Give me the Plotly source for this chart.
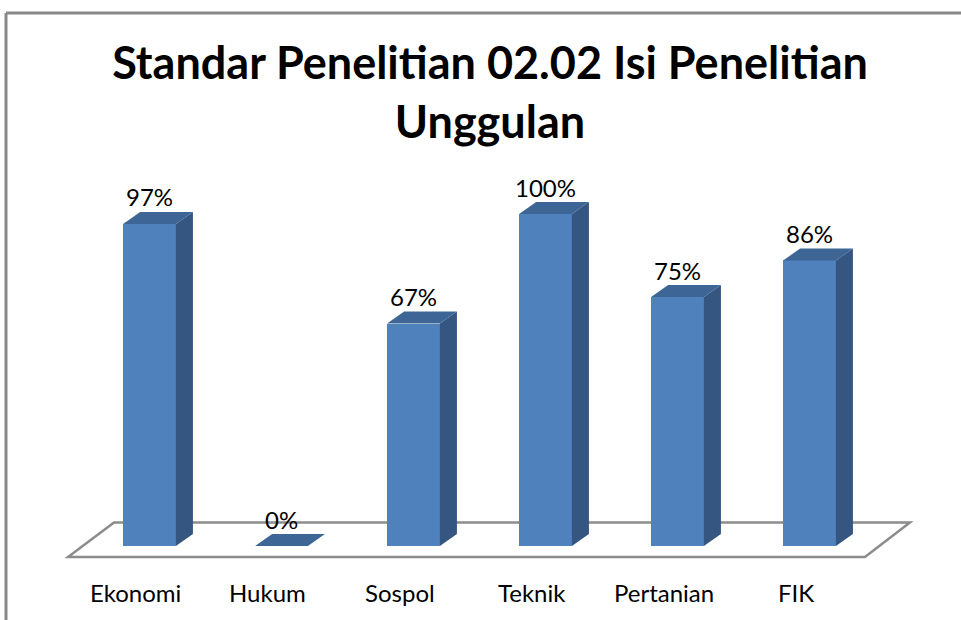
import plotly.graph_objects as go

# ---- data ----
categories = ["Ekonomi", "Hukum", "Sospol", "Teknik", "Pertanian", "FIK"]
values = [97, 0, 67, 100, 75, 86]
value_labels = ["97%", "0%", "67%", "100%", "75%", "86%"]
title_text = "Standar Penelitian 02.02 Isi Penelitian<br>Unggulan"

# ---- style constants ----
FRONT = "#4F81BD"
TOP = "#3D6697"
SIDE = "#345681"
FONT = "Lato"
BAR_W = 0.40          # bar width in category units
DEPTH_X = 0.129       # 3D depth offset (category units)
DEPTH_Y = 3.6         # 3D depth offset (value units)

W, H = 961, 620
ML, MR, MT, MB = 60, 41, 160, 50
PW, PH = W - ML - MR, H - MT - MB

x_idx = list(range(len(categories)))

fig = go.Figure()

# front faces
fig.add_trace(go.Bar(
    x=x_idx, y=values, width=BAR_W, marker=dict(color=FRONT, line=dict(width=0)),
    hoverinfo="skip", showlegend=False))

# top and side faces built from the values
top_x, top_y, side_x, side_y = [], [], [], []
for i, v in zip(x_idx, values):
    l, r = i - BAR_W / 2, i + BAR_W / 2
    top_x += [l, r, r + DEPTH_X, l + DEPTH_X, l, None]
    top_y += [v, v, v + DEPTH_Y, v + DEPTH_Y, v, None]
    if v > 0:
        side_x += [r, r, r + DEPTH_X, r + DEPTH_X, r, None]
        side_y += [0, v, v + DEPTH_Y, DEPTH_Y, 0, None]

fig.add_trace(go.Scatter(x=side_x, y=side_y, fill="toself", fillcolor=SIDE,
                         mode="lines", line=dict(width=0, color=SIDE),
                         hoverinfo="skip", showlegend=False))
fig.add_trace(go.Scatter(x=top_x, y=top_y, fill="toself", fillcolor=TOP,
                         mode="lines", line=dict(width=0, color=TOP),
                         hoverinfo="skip", showlegend=False))

# data labels
for i, v, t in zip(x_idx, values, value_labels):
    fig.add_annotation(x=i, y=v, text=t, showarrow=False, yanchor="middle",
                       yshift=27, font=dict(family=FONT, size=24, color="#000"))

# category labels
for i, c in zip(x_idx, categories):
    fig.add_annotation(x=i, y=(H - MB - 592) / PH, yref="paper", text=c,
                       showarrow=False, yanchor="middle", xshift=-14,
                       font=dict(family=FONT, size=24, color="#000"))

# floor (3D plane) – relative to category span
n = len(categories)
floor_front_y, floor_back_y = -3.3, 7.1
fl, fr = -0.617, (n - 1) + 0.42
bl, br = -0.269, (n - 1) + 0.761
fig.add_shape(type="path",
              path=f"M {fl},{floor_front_y} L {fr},{floor_front_y} L {br},{floor_back_y} L {bl},{floor_back_y} Z",
              line=dict(color="#8C8C8C", width=2.5), layer="below")

# outer chart border (top and left only visible)
def px_to_paper_x(px):
    return (px - ML) / PW

def px_to_paper_y(py):
    return (H - MB - py) / PH

fig.add_shape(type="line", xref="paper", yref="paper",
              x0=px_to_paper_x(6), y0=px_to_paper_y(13), x1=px_to_paper_x(W + 5), y1=px_to_paper_y(13),
              line=dict(color="#888888", width=3))
fig.add_shape(type="line", xref="paper", yref="paper",
              x0=px_to_paper_x(6), y0=px_to_paper_y(13), x1=px_to_paper_x(6), y1=px_to_paper_y(H + 5),
              line=dict(color="#888888", width=3))

# axis ranges so that 1 category = 132 px, 1% = 3.32 px
x0 = (ML - 149.5) / 132
x1 = x0 + PW / 132
y0 = -(H - MB - 546) / 3.32
y1 = y0 + PH / 3.32

fig.update_layout(
    width=W, height=H,
    margin=dict(l=ML, r=MR, t=MT, b=MB),
    paper_bgcolor="white", plot_bgcolor="white",
    title=dict(text=f"<b>{title_text}</b>", x=0.5, xref="paper", xanchor="center",
               y=1 - 79 / H, yref="container", yanchor="middle",
               font=dict(family=FONT, size=45, color="#000")),
    xaxis=dict(range=[x0, x1], visible=False, fixedrange=True),
    yaxis=dict(range=[y0, y1], visible=False, fixedrange=True),
    bargap=0,
)

fig.write_html("out.html", config={"displayModeBar": False},
               post_script="document.body.style.margin='0';document.body.style.overflow='hidden';")
